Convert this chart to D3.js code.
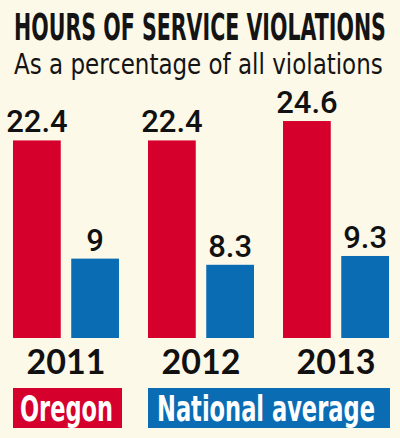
<!DOCTYPE html>
<html>
<head>
<meta charset="utf-8">
<script src="https://cdn.jsdelivr.net/npm/d3@7"></script>
<style>
  html, body { margin: 0; padding: 0; background: #fdf9e9; }
  svg { display: block; }
</style>
</head>
<body>
<div id="chart"></div>
<script>
const years = ["2011", "2012", "2013"];
const seriesNames = ["Oregon", "National average"];
const oregon = [22.4, 22.4, 24.6];
const national = [9, 8.3, 9.3];

const Width = 400;
const Height = 438;
const colors = ["#d5002b", "#0a6db4"];
const narrow = "'Liberation Sans Narrow', 'DejaVu Sans Condensed', 'Arial Narrow', sans-serif";

const rows = years.map((y, i) => ({ year: y, values: [oregon[i], national[i]] }));

const svg = d3
  .select("#chart")
  .append("svg")
  .attr("width", Width)
  .attr("height", Height)
  .attr("viewBox", [0, 0, Width, Height]);

svg.append("rect").attr("width", Width).attr("height", Height).attr("fill", "#fdf9e9");

// squeeze/stretch a text horizontally so it spans `w` pixels from x
function fitText(sel, x, w) {
  sel.each(function () {
    const len = this.getComputedTextLength();
    const k = len > 0 ? w / len : 1;
    d3.select(this).attr("x", 0).attr("transform", `translate(${x},${this.getAttribute("y")}) scale(${k},1)`).attr("y", 0);
  });
}

// titles
svg
  .append("text")
  .attr("y", 40)
  .style("font", `bold 37px ${narrow}`)
  .attr("fill", "#141414")
  .text("HOURS OF SERVICE VIOLATIONS")
  .call(fitText, 14, 372);

svg
  .append("text")
  .attr("y", 74)
  .style("font", `28px ${narrow}`)
  .attr("fill", "#141414")
  .text("As a percentage of all violations")
  .call(fitText, 14, 369);

// scales
const x0 = d3.scaleBand().domain(years).range([13, 389]).paddingInner(0.215).paddingOuter(0);
const x1 = d3.scaleBand().domain(d3.range(seriesNames.length)).range([0, x0.bandwidth()]).paddingInner(0.18);
const y = d3.scaleLinear().domain([0, 25]).range([338, 338 - 25 * 8.82]);

const group = svg
  .append("g")
  .selectAll("g")
  .data(rows)
  .join("g")
  .attr("transform", (d) => `translate(${x0(d.year)},0)`);

group
  .selectAll("rect")
  .data((d) => d.values)
  .join("rect")
  .attr("x", (d, i) => x1(i))
  .attr("y", (d) => y(d))
  .attr("width", x1.bandwidth())
  .attr("height", (d) => y(0) - y(d))
  .attr("fill", (d, i) => colors[i]);

group
  .selectAll("text.val")
  .data((d) => d.values)
  .join("text")
  .attr("class", "val")
  .attr("x", (d, i) => x1(i) + x1.bandwidth() / 2)
  .attr("y", (d) => y(d) - 8)
  .attr("text-anchor", "middle")
  .style("font", "500 31px Roboto, sans-serif")
  .attr("fill", "#111")
  .text((d) => d);

// year labels
svg
  .append("g")
  .selectAll("text")
  .data(years)
  .join("text")
  .attr("x", (d) => x0(d) + x0.bandwidth() / 2)
  .attr("y", 374)
  .attr("text-anchor", "middle")
  .style("font", "bold 34px Lato, sans-serif")
  .attr("fill", "#111")
  .text((d) => d);

// legend
const legendX = [13, 148];
const legendW = [109, 242];
const legendTextW = [93, 218];
const legend = svg
  .append("g")
  .selectAll("g")
  .data(seriesNames)
  .join("g")
  .attr("transform", (d, i) => `translate(${legendX[i]},388)`);

legend
  .append("rect")
  .attr("width", (d, i) => legendW[i])
  .attr("height", 40)
  .attr("fill", (d, i) => colors[i]);

legend
  .append("text")
  .attr("y", 33)
  .style("font", `bold 36px ${narrow}`)
  .attr("fill", "#fff")
  .text((d) => d)
  .each(function (d, i) {
    d3.select(this).call(fitText, i === 0 ? 7 : 9, legendTextW[i]);
  });
</script>
</body>
</html>
